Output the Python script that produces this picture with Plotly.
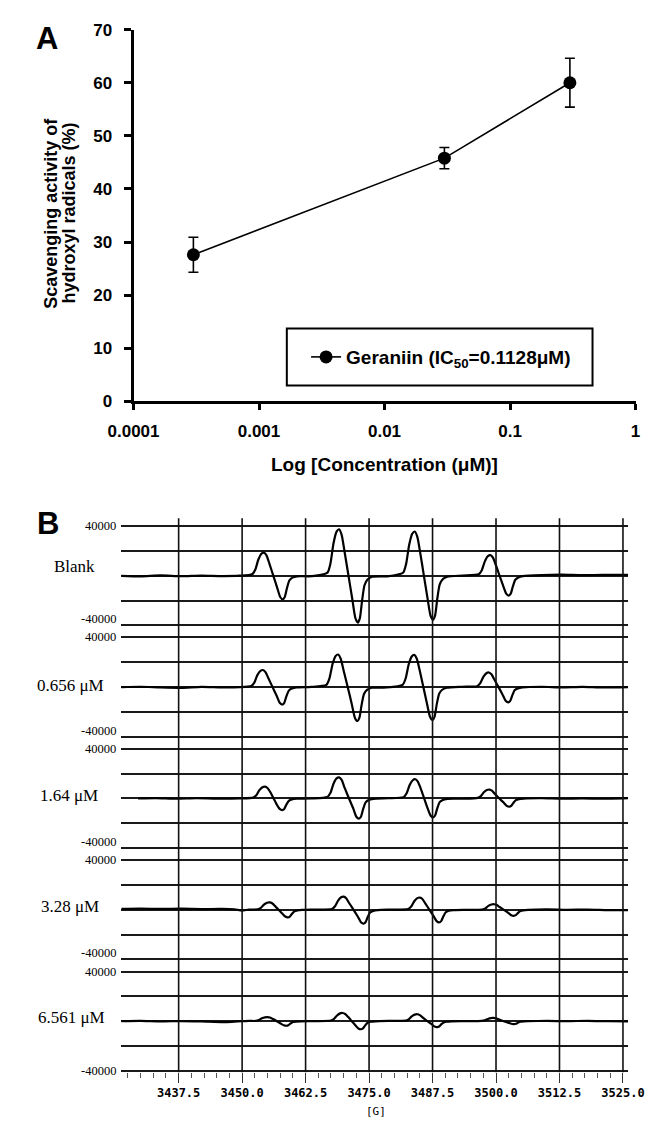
import plotly.graph_objects as go

# ---------------- Panel A data ----------------
conc_uM = [0.0003, 0.03, 0.3]
scavenging_pct = [27.6, 45.8, 60.0]
scavenging_err = [3.3, 2.0, 4.6]
conc_tick_vals = [0.0001, 0.001, 0.01, 0.1, 1]
conc_tick_text = ["0.0001", "0.001", "0.01", "0.1", "1"]
pct_tick_vals = [0, 10, 20, 30, 40, 50, 60, 70]
legend_name = "Geraniin (IC<sub>50</sub>=0.1128μM)"

# ---------------- Panel B data ----------------
spectrum_labels = ["Blank", "0.656 μM", "1.64 μM", "3.28 μM", "6.561 μM"]
field_ticks = [3437.5, 3450.0, 3462.5, 3475.0, 3487.5, 3500.0, 3512.5, 3525.0]
field_tick_text = ["3437.5", "3450.0", "3462.5", "3475.0", "3487.5", "3500.0", "3512.5", "3525.0"]
intensity_ticks = [-40000, -20000, 0, 20000, 40000]
intensity_label_top = "40000"
intensity_label_bottom = "-40000"

field_blank = [3426.2, 3430, 3434, 3438, 3442, 3446, 3449.5,
               3452.0, 3452.6, 3453.2, 3453.8, 3454.3, 3454.8, 3455.4, 3456.15, 3456.9, 3457.5, 3458.0, 3458.4, 3458.8, 3459.3, 3459.9, 3460.8,
               3463.8,
               3466.8, 3467.4, 3468.0, 3468.6, 3469.1, 3469.6, 3470.2, 3470.95, 3471.7, 3472.3, 3472.8, 3473.2, 3473.6, 3474.1, 3474.7, 3475.6,
               3478.6,
               3481.7, 3482.3, 3482.9, 3483.5, 3484.0, 3484.5, 3485.1, 3485.8, 3486.5, 3487.1, 3487.6, 3488.0, 3488.4, 3488.9, 3489.5, 3490.4,
               3493.5,
               3496.6, 3497.2, 3497.8, 3498.4, 3498.9, 3499.4, 3500.0, 3500.7, 3501.4, 3502.0, 3502.5, 3502.9, 3503.3, 3503.8, 3504.4, 3505.3,
               3509, 3513, 3517, 3521, 3526]
signal_blank = [0, -400, 300, -300, 200, -200, 100,
                1300, 5000, 13100, 17800, 18700, 16500, 9400, 0, -9500, -17100, -19000, -17100, -10500, -3800, -1500, -400,
                -300,
                2600, 10100, 26300, 35600, 37500, 33000, 18800, 0, -18900, -34000, -37800, -34000, -20800, -7600, -3000, -800,
                -400,
                2500, 9600, 25000, 33900, 35700, 31400, 17900, 0, -17800, -32000, -35500, -32000, -19500, -7100, -2800, -700,
                200,
                1200, 4500, 11600, 15800, 16600, 14600, 8300, 0, -8000, -14400, -16000, -14400, -8800, -3200, -1300, -300,
                600, 900, 500, 800, 700]

field_0656 = [3426.2, 3430, 3434, 3438, 3442, 3446, 3449.5,
              3451.8, 3452.4, 3453.0, 3453.6, 3454.1, 3454.6, 3455.2, 3456.0, 3456.8, 3457.4, 3457.9, 3458.3, 3458.7, 3459.2, 3459.8, 3460.7,
              3463.6,
              3466.6, 3467.2, 3467.8, 3468.4, 3468.9, 3469.4, 3470.0, 3470.8, 3471.6, 3472.2, 3472.7, 3473.1, 3473.5, 3474.0, 3474.6, 3475.5,
              3478.5,
              3481.6, 3482.2, 3482.8, 3483.4, 3483.9, 3484.4, 3485.0, 3485.7, 3486.4, 3487.0, 3487.5, 3487.9, 3488.3, 3488.8, 3489.4, 3490.3,
              3493.3,
              3496.3, 3496.9, 3497.5, 3498.1, 3498.6, 3499.1, 3499.7, 3500.5, 3501.3, 3501.9, 3502.4, 3502.8, 3503.2, 3503.7, 3504.3, 3505.2,
              3509, 3513, 3517, 3521, 3526]
signal_0656 = [0, 300, -300, -600, 200, -200, 0,
               1000, 3700, 9700, 13100, 13800, 12100, 6900, 0, -7000, -12600, -14000, -12600, -7700, -2800, -1100, -300,
               200,
               1800, 7100, 18400, 25000, 26300, 23100, 13200, 0, -13700, -24600, -27300, -24600, -15000, -5500, -2200, -500,
               -300,
               1800, 7000, 18200, 24700, 26000, 22900, 13000, 0, -13200, -23800, -26400, -23800, -14500, -5300, -2100, -500,
               300,
               800, 3200, 8300, 11200, 11800, 10400, 5900, 0, -6100, -11000, -12200, -11000, -6700, -2400, -1000, -200,
               300, -200, 200, -300, 0]

field_164 = [3429.5, 3433, 3437, 3441, 3445, 3449.5,
             3452.2, 3452.8, 3453.4, 3454.0, 3454.5, 3455.0, 3455.6, 3456.2, 3456.8, 3457.4, 3457.9, 3458.3, 3458.7, 3459.2, 3459.8, 3460.7,
             3463.7,
             3466.8, 3467.4, 3468.0, 3468.6, 3469.1, 3469.6, 3470.2, 3471.05, 3471.9, 3472.5, 3473.0, 3473.4, 3473.8, 3474.3, 3474.9, 3475.8,
             3478.8,
             3481.8, 3482.4, 3483.0, 3483.6, 3484.1, 3484.6, 3485.2, 3485.85, 3486.5, 3487.1, 3487.6, 3488.0, 3488.4, 3488.9, 3489.5, 3490.4,
             3493.6,
             3496.4, 3497.0, 3497.6, 3498.2, 3498.7, 3499.2, 3499.8, 3500.65, 3501.5, 3502.1, 3502.6, 3503.0, 3503.4, 3503.9, 3504.5, 3505.4,
             3509, 3513, 3517, 3521, 3526]
signal_164 = [0, 300, -200, 200, -100, 100,
              700, 2600, 6700, 9100, 9600, 8400, 4800, 0, -4700, -8400, -9300, -8400, -5100, -1900, -700, -200,
              0,
              1200, 4600, 11900, 16200, 17000, 15000, 8500, 0, -8200, -14700, -16300, -14700, -9000, -3300, -1300, -300,
              200,
              1100, 4200, 10900, 14700, 15500, 13600, 7800, 0, -7600, -13700, -15200, -13700, -8400, -3000, -1200, -300,
              -200,
              500, 1900, 5000, 6800, 7200, 6300, 3600, 0, -3300, -5900, -6600, -5900, -3600, -1300, -500, -100,
              200, -200, 100, -200, 300]

field_328 = [3426.2, 3430, 3434, 3438, 3442, 3446, 3448.5, 3450, 3451.3,
             3453.1, 3453.7, 3454.3, 3454.9, 3455.4, 3455.9, 3456.5, 3457.2, 3457.9, 3458.5, 3459.0, 3459.4, 3459.8, 3460.3, 3460.9, 3461.8,
             3464.6,
             3467.7, 3468.3, 3468.9, 3469.5, 3470.0, 3470.5, 3471.1, 3471.95, 3472.8, 3473.4, 3473.9, 3474.3, 3474.7, 3475.2, 3475.8, 3476.7,
             3479.6,
             3482.7, 3483.3, 3483.9, 3484.5, 3485.0, 3485.5, 3486.1, 3486.9, 3487.7, 3488.3, 3488.8, 3489.2, 3489.6, 3490.1, 3490.7, 3491.6,
             3494.4,
             3497.3, 3497.9, 3498.5, 3499.1, 3499.6, 3500.1, 3500.7, 3501.55, 3502.4, 3503.0, 3503.5, 3503.9, 3504.3, 3504.8, 3505.4, 3506.3,
             3510, 3514, 3518, 3522, 3526]
signal_328 = [800, 1000, 700, 900, 600, 700, 300, -600, 200,
              400, 1600, 4200, 5700, 6000, 5300, 3000, 0, -3000, -5400, -6000, -5400, -3300, -1200, -500, -100,
              200,
              700, 2900, 7400, 10100, 10600, 9300, 5300, 0, -5600, -10000, -11100, -10000, -6100, -2200, -900, -200,
              200,
              700, 2700, 6900, 9400, 9900, 8700, 5000, 0, -5100, -9100, -10100, -9100, -5600, -2000, -800, -200,
              0,
              300, 1200, 3200, 4300, 4500, 4000, 2300, 0, -2400, -4300, -4800, -4300, -2600, -1000, -400, -100,
              300, 0, 200, -200, -300]

field_6561 = [3426.2, 3430, 3434, 3438, 3442, 3446, 3448, 3450, 3451.3,
              3452.7, 3453.3, 3453.9, 3454.5, 3455.0, 3455.5, 3456.1, 3456.85, 3457.6, 3458.2, 3458.7, 3459.1, 3459.5, 3460.0, 3460.6, 3461.5,
              3464.4,
              3467.5, 3468.1, 3468.7, 3469.3, 3469.8, 3470.3, 3470.9, 3471.6, 3472.3, 3472.9, 3473.4, 3473.8, 3474.2, 3474.7, 3475.3, 3476.2,
              3479.2,
              3482.2, 3482.8, 3483.4, 3484.0, 3484.5, 3485.0, 3485.6, 3486.45, 3487.3, 3487.9, 3488.4, 3488.8, 3489.2, 3489.7, 3490.3, 3491.2,
              3494.1,
              3497.2, 3497.8, 3498.4, 3499.0, 3499.5, 3500.0, 3500.6, 3501.5, 3502.4, 3503.0, 3503.5, 3503.9, 3504.3, 3504.8, 3505.4, 3506.3,
              3510, 3514, 3518, 3522, 3526]
signal_6561 = [0, 200, -200, 100, -200, -700, -500, 0, 200,
               200, 900, 2300, 3100, 3300, 2900, 1700, 0, -1900, -3300, -3700, -3300, -2000, -700, -300, -100,
               0,
               500, 1800, 4600, 6300, 6600, 5800, 3300, 0, -3300, -5900, -6500, -5900, -3600, -1300, -500, -100,
               200,
               400, 1500, 3900, 5300, 5600, 4900, 2800, 0, -2400, -4300, -4800, -4300, -2600, -1000, -400, -100,
               0,
               200, 700, 1800, 2500, 2600, 2300, 1300, 0, -1200, -2100, -2300, -2100, -1300, -500, -200, 0,
               200, 0, 300, 0, -200]

spectra_fields = [field_blank, field_0656, field_164, field_328, field_6561]
spectra_signals = [signal_blank, signal_0656, signal_164, signal_328, signal_6561]

# ---------------- Layout geometry (pixels) ----------------
W, H = 660, 1129


def px_x(p):
    return p / W


def px_y(p):
    return (H - p) / H


SANS = "Liberation Sans, Arial, sans-serif"
SERIF = "Liberation Serif, Times New Roman, serif"
MONO = "DejaVu Sans Mono, monospace"

fig = go.Figure()

# Panel A
fig.add_trace(go.Scatter(
    x=conc_uM, y=scavenging_pct, mode="lines+markers", name=legend_name,
    line=dict(color="black", width=1.6),
    marker=dict(color="black", size=13, symbol="circle"),
    error_y=dict(type="data", array=scavenging_err, color="black", thickness=1.6, width=5),
    xaxis="x", yaxis="y", showlegend=True,
))

# Panel B spectra
B_top0 = 526.0
B_step = 113.25
B_h = 101.0
pad = 1.26
for k in range(5):
    ax = str(k + 2)
    fig.add_trace(go.Scatter(
        x=spectra_fields[k], y=spectra_signals[k], mode="lines",
        line=dict(color="black", width=2.2, shape="spline", smoothing=0.6),
        xaxis="x" + ax, yaxis="y" + ax, showlegend=False, hoverinfo="skip",
    ))

layout = dict(
    width=W, height=H, margin=dict(l=0, r=0, t=0, b=0),
    paper_bgcolor="white", plot_bgcolor="rgba(0,0,0,0)",
    font=dict(family=SANS, color="black"),
    showlegend=True,
    legend=dict(x=px_x(444), y=px_y(354), xanchor="center", yanchor="middle",
                bgcolor="rgba(0,0,0,0)", borderwidth=0,
                font=dict(family=SANS, size=19, color="black", weight="bold")),
    xaxis=dict(type="log", range=[-4, 0], domain=[px_x(115), px_x(652)], anchor="y",
               showline=True, linecolor="black", linewidth=3, showgrid=False, zeroline=False,
               tickmode="array", tickvals=conc_tick_vals, ticktext=conc_tick_text,
               ticks="outside", ticklen=6, tickwidth=2.5, tickcolor="black",
               ticklabelstandoff=6,
               tickfont=dict(family=SANS, size=17, color="black", weight="bold")),
    yaxis=dict(range=[0, 70], domain=[px_y(399), px_y(21)], anchor="x",
               showline=True, linecolor="black", linewidth=3, showgrid=False, zeroline=False,
               tickmode="array", tickvals=pct_tick_vals,
               ticks="outside", ticklen=7, tickwidth=2.5, tickcolor="black",
               ticklabelstandoff=8,
               tickfont=dict(family=SANS, size=17, color="black", weight="bold")),
)

for k in range(5):
    ax = str(k + 2)
    top = B_top0 + k * B_step
    bot = top + B_h
    layout["yaxis" + ax] = dict(
        domain=[px_y(bot + pad), px_y(top - pad)], range=[-41000, 41000], anchor="x" + ax,
        tickmode="array", tickvals=intensity_ticks, showticklabels=False,
        showgrid=True, gridcolor="#1a1a1a", gridwidth=1.8, zeroline=False, showline=False,
        ticks="",
    )
    xa = dict(domain=[px_x(101.9), px_x(644)], range=[3426.2, 3526.0], anchor="y" + ax,
              showgrid=False, zeroline=False, showline=False)
    if k < 4:
        xa.update(showticklabels=False, ticks="", matches="x6")
    else:
        xa.update(tickmode="array", tickvals=field_ticks, ticktext=field_tick_text,
                  ticks="outside", ticklen=10, tickwidth=1.2, tickcolor="#333",
                  minor=dict(tickmode="linear", tick0=3425.0, dtick=2.5, ticks="outside",
                             ticklen=5, tickwidth=1, tickcolor="#555", showgrid=False),
                  ticklabelstandoff=0,
                  tickfont=dict(family=MONO, size=12, color="black", weight="bold"))
    layout["xaxis" + ax] = xa

shapes = []
# legend frame in panel A
shapes.append(dict(type="rect", xref="paper", yref="paper",
                   x0=px_x(279), x1=px_x(606), y0=px_y(383), y1=px_y(325),
                   line=dict(color="black", width=2)))
# vertical field grid lines running through all spectra in panel B
for v in field_ticks:
    shapes.append(dict(type="line", xref="x6", yref="paper", x0=v, x1=v,
                       y0=px_y(1081.5), y1=px_y(518),
                       line=dict(color="#111", width=1.6)))
layout["shapes"] = shapes

annotations = [
    dict(text="<b>A</b>", x=px_x(22.5), y=px_y(30), xref="paper", yref="paper",
         showarrow=False, xanchor="center", yanchor="middle",
         font=dict(family=SANS, size=31, color="black")),
    dict(text="<b>B</b>", x=px_x(23), y=px_y(523.5), xref="paper", yref="paper",
         showarrow=False, xanchor="center", yanchor="middle",
         font=dict(family=SANS, size=31, color="black")),
    dict(text="<b>Scavenging activity of</b>", x=px_x(27), y=px_y(208), xref="paper", yref="paper",
         showarrow=False, xanchor="center", yanchor="middle", textangle=-90,
         font=dict(family=SANS, size=18, color="black")),
    dict(text="<b>hydroxyl radicals (%)</b>", x=px_x(46), y=px_y(208), xref="paper", yref="paper",
         showarrow=False, xanchor="center", yanchor="middle", textangle=-90,
         font=dict(family=SANS, size=18, color="black")),
    dict(text="<b>Log [Concentration (μM)]</b>", x=px_x(383.5), y=px_y(463), xref="paper", yref="paper",
         showarrow=False, xanchor="center", yanchor="middle",
         font=dict(family=SANS, size=19, color="black")),
    dict(text="[G]", x=px_x(374), y=0, xref="paper", yref="paper",
         showarrow=False, xanchor="center", yanchor="bottom", borderpad=0, yshift=0,
         font=dict(family=MONO, size=11, color="black")),
]
label_centers = [(51.5, 567), (48, 688), (46, 800), (47, 913), (49, 1026)]
for lab, (cx, cy) in zip(spectrum_labels, label_centers):
    annotations.append(dict(text=lab, x=px_x(cx), y=px_y(cy), xref="paper", yref="paper",
                            showarrow=False, xanchor="center", yanchor="middle",
                            font=dict(family=SERIF, size=17, color="black")))

# intensity scale labels of the stacked spectra (placed on their grid lines)
for k in range(5):
    top = B_top0 + k * B_step
    bot = top + B_h
    annotations.append(dict(text=intensity_label_top, x=px_x(97), y=px_y(top), xref="paper", yref="paper",
                            showarrow=False, xanchor="right", yanchor="middle", borderpad=0,
                            font=dict(family=SERIF, size=12.5, color="black")))
    if k < 4:
        annotations.append(dict(text=intensity_label_bottom, x=px_x(97), y=px_y(bot), xref="paper",
                                yref="paper", showarrow=False, xanchor="right", yanchor="bottom",
                                yshift=-2, borderpad=0,
                                font=dict(family=SERIF, size=12.5, color="black")))
    else:
        annotations.append(dict(text=intensity_label_bottom, x=px_x(97), y=px_y(bot), xref="paper",
                                yref="paper", showarrow=False, xanchor="right", yanchor="middle",
                                borderpad=0, font=dict(family=SERIF, size=12.5, color="black")))
layout["annotations"] = annotations

fig.update_layout(**layout)
fig.write_html("out.html")
